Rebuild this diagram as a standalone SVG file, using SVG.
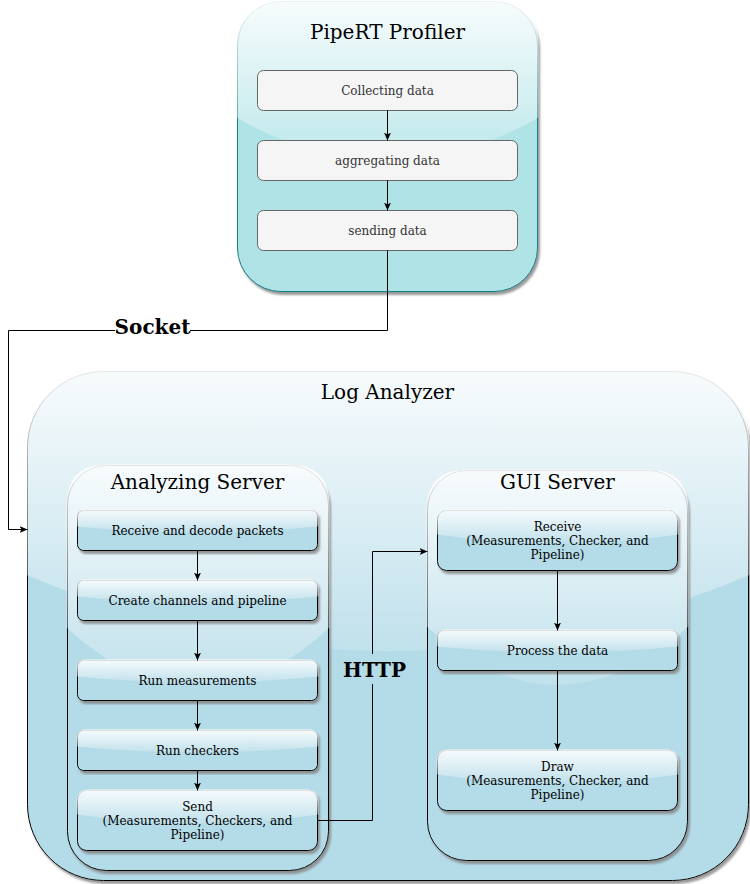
<svg xmlns="http://www.w3.org/2000/svg" width="750" height="884" viewBox="0 0 750 884">
<style>
text{font-family:"DejaVu Serif","Liberation Serif",serif;text-anchor:middle;}
.t{font-size:20px;fill:#000;}
.s{font-size:12px;fill:#000;}
.g{font-size:12px;fill:#333333;}
.lb{font-size:20px;font-weight:bold;fill:#000;}
.cont{fill:#b4dbe8;stroke:#000;stroke-width:1;}
.box{fill:#b4dbe8;stroke:#000;stroke-width:1;}
.grey{fill:#f5f5f5;stroke:#666666;stroke-width:1;}
.glass{fill:url(#gl);stroke:none;}
.edge{fill:none;stroke:#000;stroke-width:1;}
</style>
<defs>
<linearGradient id="gl" x1="0" y1="0" x2="0" y2="1.09">
<stop offset="0" stop-color="#fff" stop-opacity="0.9"/>
<stop offset="1" stop-color="#fff" stop-opacity="0.1"/>
</linearGradient>
<filter id="sh" x="-5%" y="-5%" width="115%" height="115%">
<feDropShadow dx="2" dy="3" stdDeviation="0.8" flood-color="#808080" flood-opacity="0.8"/>
</filter>
<marker id="ar" markerUnits="userSpaceOnUse" markerWidth="8" markerHeight="8" refX="8" refY="3.5" orient="auto">
<path d="M0,0 L8,3.5 L0,7 L2,3.5 Z" fill="#000"/>
</marker>
</defs>

<g id="profiler">
<rect x="237.5" y="1.5" width="300" height="290" rx="43.5" ry="43.5" fill="#b0e3e6" stroke="#0e8088" filter="url(#sh)"/>
<path class="glass" d="M281.5,0.5 Q236.5,0.5 236.5,45.5 L236.5,117.5 Q387.5,204.5 538.5,117.5 L538.5,45.5 Q538.5,0.5 493.5,0.5 Z"/>
<text class="t" x="387.5" y="39">PipeRT Profiler</text>
</g>
<g id="collecting">
<rect class="grey" x="257.5" y="70.5" width="260" height="40" rx="6" ry="6"/>
<text class="g" x="387.5" y="95">Collecting data</text>
</g>
<g id="aggregating">
<rect class="grey" x="257.5" y="140.5" width="260" height="40" rx="6" ry="6"/>
<text class="g" x="387.5" y="165">aggregating data</text>
</g>
<g id="sending">
<rect class="grey" x="257.5" y="210.5" width="260" height="40" rx="6" ry="6"/>
<text class="g" x="387.5" y="235">sending data</text>
</g>

<g id="log-analyzer">
<rect class="cont" x="27.5" y="371.5" width="721" height="509" rx="76" ry="76" filter="url(#sh)"/>
<path class="glass" d="M104.5,370.5 Q26.5,370.5 26.5,448.5 L26.5,575 Q388,727.5 749.5,575 L749.5,448.5 Q749.5,370.5 671.5,370.5 Z"/>
<text class="t" x="387.5" y="399">Log Analyzer</text>
</g>

<g id="analyzing-server">
<rect class="cont" x="67.5" y="465.5" width="261" height="405" rx="39" ry="39" filter="url(#sh)"/>
<path class="glass" d="M107.5,464.5 Q66.5,464.5 66.5,505.5 L66.5,627.5 Q198,749 329.5,627.5 L329.5,505.5 Q329.5,464.5 288.5,464.5 Z"/>
<text class="t" x="197.5" y="489">Analyzing Server</text>
</g>

<g id="gui-server">
<rect class="cont" x="427.5" y="470.5" width="260" height="390" rx="39" ry="39" filter="url(#sh)"/>
<path class="glass" d="M467.5,469.5 Q426.5,469.5 426.5,510.5 L426.5,626.5 Q557.5,743.5 688.5,626.5 L688.5,510.5 Q688.5,469.5 647.5,469.5 Z"/>
<text class="t" x="557.5" y="489">GUI Server</text>
</g>

<g id="receive-decode">
<rect class="box" x="77.5" y="510.5" width="240" height="40" rx="6" ry="6" filter="url(#sh)"/>
<path class="glass" d="M85.5,509.5 Q76.5,509.5 76.5,518.5 L76.5,526.5 Q197.5,538.5 318.5,526.5 L318.5,518.5 Q318.5,509.5 309.5,509.5 Z"/>
<text class="s" x="197.5" y="535">Receive and decode packets</text>
</g>
<g id="create-channels">
<rect class="box" x="77.5" y="580.5" width="240" height="40" rx="6" ry="6" filter="url(#sh)"/>
<path class="glass" d="M85.5,579.5 Q76.5,579.5 76.5,588.5 L76.5,596.5 Q197.5,608.5 318.5,596.5 L318.5,588.5 Q318.5,579.5 309.5,579.5 Z"/>
<text class="s" x="197.5" y="605">Create channels and pipeline</text>
</g>
<g id="run-measurements">
<rect class="box" x="77.5" y="660.5" width="240" height="40" rx="6" ry="6" filter="url(#sh)"/>
<path class="glass" d="M85.5,659.5 Q76.5,659.5 76.5,668.5 L76.5,676.5 Q197.5,688.5 318.5,676.5 L318.5,668.5 Q318.5,659.5 309.5,659.5 Z"/>
<text class="s" x="197.5" y="685">Run measurements</text>
</g>
<g id="run-checkers">
<rect class="box" x="77.5" y="730.5" width="240" height="40" rx="6" ry="6" filter="url(#sh)"/>
<path class="glass" d="M85.5,729.5 Q76.5,729.5 76.5,738.5 L76.5,746.5 Q197.5,758.5 318.5,746.5 L318.5,738.5 Q318.5,729.5 309.5,729.5 Z"/>
<text class="s" x="197.5" y="755">Run checkers</text>
</g>
<g id="send">
<rect class="box" x="77.5" y="790.5" width="240" height="60" rx="9" ry="9" filter="url(#sh)"/>
<path class="glass" d="M88.5,789.5 Q76.5,789.5 76.5,801.5 L76.5,814.5 Q197.5,832.5 318.5,814.5 L318.5,801.5 Q318.5,789.5 306.5,789.5 Z"/>
<text class="s" x="197.5" y="811">Send</text>
<text class="s" x="197.5" y="825">(Measurements, Checkers, and</text>
<text class="s" x="197.5" y="839">Pipeline)</text>
</g>

<g id="receive">
<rect class="box" x="437.5" y="510.5" width="240" height="60" rx="9" ry="9" filter="url(#sh)"/>
<path class="glass" d="M448.5,509.5 Q436.5,509.5 436.5,521.5 L436.5,534.5 Q557.5,552.5 678.5,534.5 L678.5,521.5 Q678.5,509.5 666.5,509.5 Z"/>
<text class="s" x="557.5" y="531">Receive</text>
<text class="s" x="557.5" y="545">(Measurements, Checker, and</text>
<text class="s" x="557.5" y="559">Pipeline)</text>
</g>
<g id="process">
<rect class="box" x="437.5" y="630.5" width="240" height="40" rx="6" ry="6" filter="url(#sh)"/>
<path class="glass" d="M445.5,629.5 Q436.5,629.5 436.5,638.5 L436.5,646.5 Q557.5,658.5 678.5,646.5 L678.5,638.5 Q678.5,629.5 669.5,629.5 Z"/>
<text class="s" x="557.5" y="655">Process the data</text>
</g>
<g id="draw">
<rect class="box" x="437.5" y="750.5" width="240" height="60" rx="9" ry="9" filter="url(#sh)"/>
<path class="glass" d="M448.5,749.5 Q436.5,749.5 436.5,761.5 L436.5,774.5 Q557.5,792.5 678.5,774.5 L678.5,761.5 Q678.5,749.5 666.5,749.5 Z"/>
<text class="s" x="557.5" y="771">Draw</text>
<text class="s" x="557.5" y="785">(Measurements, Checker, and</text>
<text class="s" x="557.5" y="799">Pipeline)</text>
</g>

<g id="connectors">
<path class="edge" d="M387.5,110.5 L387.5,140.5" marker-end="url(#ar)"/>
<path class="edge" d="M387.5,180.5 L387.5,210.5" marker-end="url(#ar)"/>
<path class="edge" d="M387.5,250.5 L387.5,330.5 L8.5,330.5 L8.5,529.5 L27.5,529.5" marker-end="url(#ar)"/>
<rect x="115" y="316" width="75" height="24" fill="#fff"/>
<text class="lb" x="152.5" y="334">Socket</text>
<path class="edge" d="M197.5,550.5 L197.5,580.5" marker-end="url(#ar)"/>
<path class="edge" d="M197.5,620.5 L197.5,660.5" marker-end="url(#ar)"/>
<path class="edge" d="M197.5,700.5 L197.5,730.5" marker-end="url(#ar)"/>
<path class="edge" d="M197.5,770.5 L197.5,790.5" marker-end="url(#ar)"/>
<path class="edge" d="M317.5,820.5 L372.5,820.5 L372.5,551.5 L427.5,551.5" marker-end="url(#ar)"/>
<rect x="342" y="654" width="64" height="30" fill="#b4dbe8"/>
<text class="lb" x="374.5" y="677">HTTP</text>
<path class="edge" d="M557.5,570.5 L557.5,630.5" marker-end="url(#ar)"/>
<path class="edge" d="M557.5,670.5 L557.5,750.5" marker-end="url(#ar)"/>
</g>
</svg>
